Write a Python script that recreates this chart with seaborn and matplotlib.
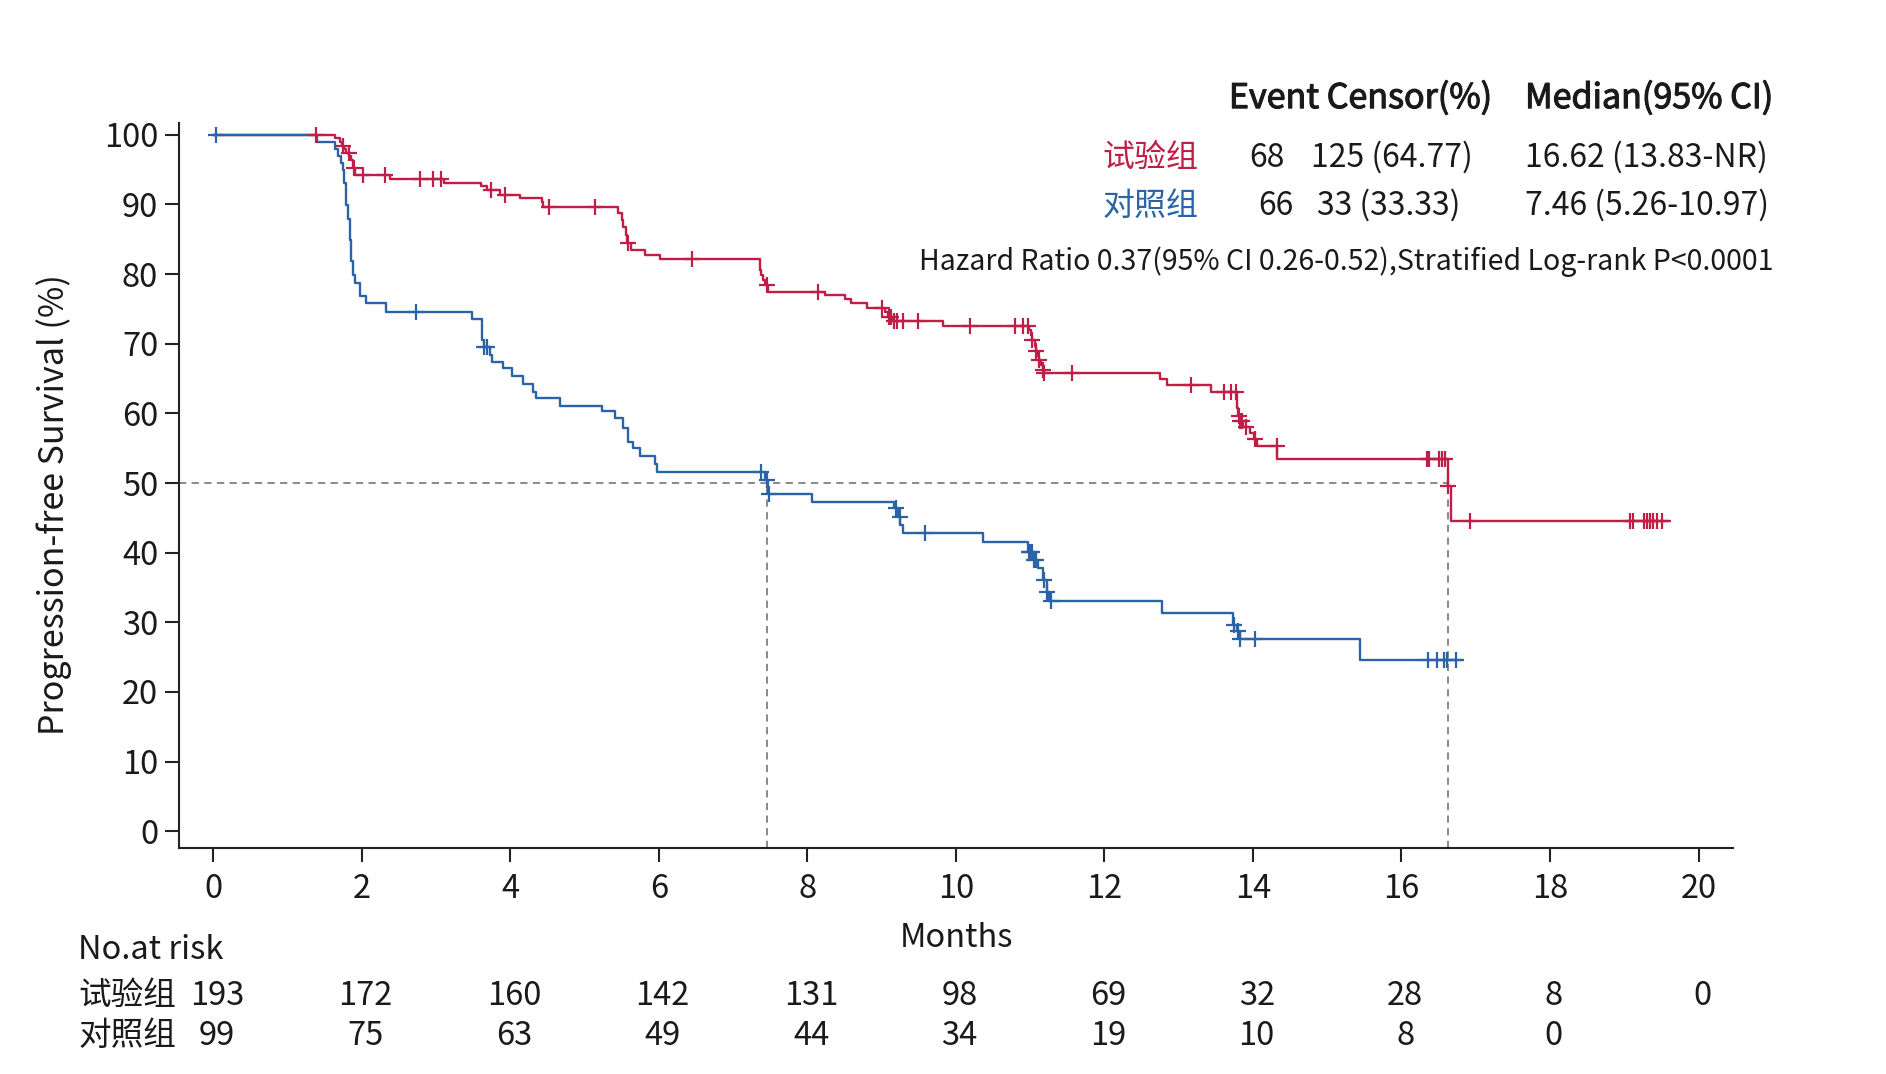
import numpy as np
import pandas as pd
import matplotlib
matplotlib.use("Agg")
import matplotlib.pyplot as plt
import matplotlib.transforms as mtransforms
import matplotlib.patheffects as pe
import seaborn as sns

# ------------------------------------------
# DATA
# ------------------------------------------

GROUPS = ["试验组", "对照组"]

exp_times = [0, 1.64, 1.70, 1.73, 1.76, 1.79, 1.83, 1.86, 1.88, 1.91, 2.38, 3.10,
             3.61, 3.68, 3.86, 4.13, 4.42, 4.44, 5.45, 5.50, 5.52, 5.56, 5.57,
             5.63, 5.81, 6.02, 7.36, 7.38, 7.40, 7.43, 7.47, 8.23, 8.50, 8.59,
             8.80, 9.04, 9.08, 9.15, 9.83, 10.98, 11.01, 11.03, 11.06, 11.08,
             11.10, 11.12, 11.15, 11.17, 11.18, 12.75, 12.84, 13.44, 13.78,
             13.79, 13.80, 13.83, 13.87, 13.96, 14.02, 14.06, 14.33, 16.62,
             16.67, 19.61]
exp_surv = [100, 99.48, 98.96, 98.44, 97.92, 97.4, 96.9, 96.4, 95.2, 94.3, 93.6,
            93.1, 92.7, 92.1, 91.4, 90.9, 90.3, 89.7, 88.75, 87.8, 86.8, 85.6,
            84.4, 83.5, 82.8, 82.1, 80.6, 79.9, 79.2, 78.5, 77.5, 77.0, 76.4,
            75.8, 75.1, 74.6, 73.9, 73.3, 72.6, 71.9, 71.2, 70.5, 69.7, 69.0,
            68.3, 67.6, 66.9, 66.2, 65.8, 65.0, 64.1, 63.0, 61.9, 60.8, 59.6,
            58.9, 58.1, 57.2, 56.3, 55.3, 53.5, 49.5, 44.5, 44.5]
exp_censor = [1.38, 1.75, 1.82, 1.89, 2.02, 2.31, 2.78, 2.96, 3.07, 3.74, 3.93,
              4.52, 5.14, 5.58, 6.44, 7.45, 8.14, 9.00, 9.10, 9.13, 9.17, 9.20,
              9.29, 9.49, 10.19, 10.79, 10.90, 10.97, 11.03, 11.08, 11.12,
              11.17, 11.19, 11.56, 13.17, 13.61, 13.71, 13.77, 13.81, 13.83,
              13.85, 13.90, 14.03, 14.32, 16.34, 16.37, 16.51, 16.55, 16.58,
              16.63, 16.92, 19.08, 19.12, 19.27, 19.30, 19.34, 19.39, 19.44,
              19.51]

ctl_times = [0, 1.39, 1.64, 1.68, 1.72, 1.74, 1.76, 1.78, 1.79, 1.81, 1.84,
             1.86, 1.88, 1.91, 1.97, 2.06, 2.33, 3.48, 3.62, 3.64, 3.73, 3.75,
             3.90, 4.02, 4.17, 4.31, 4.34, 4.67, 5.23, 5.41, 5.52, 5.59, 5.65,
             5.74, 5.95, 5.98, 7.43, 7.47, 8.06, 9.16, 9.22, 9.25, 9.29, 10.36,
             10.97, 11.04, 11.11, 11.17, 11.22, 11.25, 12.78, 13.73, 13.79,
             13.82, 15.44, 16.83]
ctl_surv = [100, 98.99, 97.98, 96.97, 95.96, 94.95, 93.1, 91.9, 89.9, 87.9,
            84.9, 81.9, 79.9, 78.7, 76.8, 75.8, 74.6, 73.6, 70.6, 69.6, 68.4,
            67.4, 66.5, 65.3, 64.2, 63.1, 62.2, 61.1, 60.3, 59.3, 57.9, 55.9,
            55.0, 53.9, 52.8, 51.6, 50.4, 48.4, 47.3, 46.4, 45.1, 44.0, 42.8,
            41.6, 40.1, 39.0, 37.8, 36.1, 34.4, 33.0, 31.3, 29.6, 28.7, 27.6,
            24.6, 24.6]
ctl_censor = [0.03, 2.73, 3.65, 3.68, 7.37, 7.45, 7.48, 9.19, 9.24, 9.59,
              10.98, 11.00, 11.02, 11.05, 11.08, 11.19, 11.23, 11.28, 13.74,
              13.80, 13.83, 14.03, 16.36, 16.48, 16.57, 16.61, 16.73]

medians = [16.62, 7.46]

risk_times = [0, 2, 4, 6, 8, 10, 12, 14, 16, 18, 20]
risk_exp = [193, 172, 160, 142, 131, 98, 69, 32, 28, 8, 0]
risk_ctl = [99, 75, 63, 49, 44, 34, 19, 10, 8, 0]

table_rows = [
    ("68", "125 (64.77)", "16.62 (13.83-NR)"),
    ("66", "33 (33.33)", "7.46 (5.26-10.97)"),
]
hr_text = "Hazard Ratio 0.37(95% CI 0.26-0.52),Stratified Log-rank P<0.0001"

# ------------------------------------------
# STYLE
# ------------------------------------------

COLORS = {"试验组": "#BF1E46", "对照组": "#2A64A6"}
INK = "#1a1a1a"
FS = 23.5

sns.set_theme(style="ticks")
plt.rcParams["font.family"] = ["Noto Sans CJK SC", "DejaVu Sans"]
plt.rcParams["axes.unicode_minus"] = False

fig = plt.figure(figsize=(18.86, 10.74), dpi=100)
ax = fig.add_axes([0.0949, 0.2105, 0.9191 - 0.0949, 0.8855 - 0.2105])

# ------------------------------------------
# CURVES
# ------------------------------------------

df = pd.concat([
    pd.DataFrame({"t": exp_times, "s": exp_surv, "group": GROUPS[0]}),
    pd.DataFrame({"t": ctl_times, "s": ctl_surv, "group": GROUPS[1]}),
])

sns.lineplot(data=df, x="t", y="s", hue="group", hue_order=GROUPS,
             palette=COLORS, estimator=None, drawstyle="steps-post",
             linewidth=1.7, legend=False, ax=ax)


def step_value(times, surv, at):
    idx = np.searchsorted(times, at, side="right") - 1
    return np.asarray(surv)[idx]


for g, times, surv, cens in [(GROUPS[0], exp_times, exp_surv, exp_censor),
                             (GROUPS[1], ctl_times, ctl_surv, ctl_censor)]:
    cy = step_value(np.asarray(times), surv, np.asarray(cens))
    ax.plot(cens, cy, linestyle="none", marker="+", markersize=12,
            markeredgewidth=1.6, color=COLORS[g])

ax.set_xlim(-0.463, 20.47)
ax.set_ylim(-2.4, 101.7)

# median reference lines
x0 = ax.get_xlim()[0]
y0 = ax.get_ylim()[0]
ax.hlines(50, x0, max(medians), colors="#808080", linestyles=(0, (4, 3)),
          linewidth=1.3, zorder=1)
ax.vlines(medians, y0, 50, colors="#808080", linestyles=(0, (4, 3)),
          linewidth=1.3, zorder=1)

# ------------------------------------------
# AXES
# ------------------------------------------

sns.despine(ax=ax)
for sp in ["left", "bottom"]:
    ax.spines[sp].set_linewidth(1.5)
    ax.spines[sp].set_color("#222222")
ax.set_xticks(risk_times)
ax.set_yticks(range(0, 101, 10))
ax.tick_params(axis="both", length=10, width=1.5, color="#222222",
               labelsize=FS, labelcolor=INK, pad=5)
ax.tick_params(axis="x", pad=8)
ax.set_xlabel("")
ax.set_ylabel("")

fig.text(0.0286, 0.530, "Progression-free Survival (%)", rotation=90,
         ha="center", va="center", fontsize=24.5, color=INK)
fig.text(0.5069, 0.1266, "Months", ha="center", va="center",
         fontsize=FS, color=INK)

# ------------------------------------------
# SUMMARY TABLE
# ------------------------------------------

# header is a medium weight in the reference: regular face + thin stroke
medium = [pe.withStroke(linewidth=0.8, foreground=INK)]
fig.text(0.6516, 0.9082, "Event Censor(%)", ha="left", va="center",
         fontsize=24.5, color=INK, path_effects=medium)
fig.text(0.8086, 0.9082, "Median(95% CI)", ha="left", va="center",
         fontsize=24.5, color=INK, path_effects=medium)

row_y = [0.8533, 0.8085]
ev_x = [0.6811, 0.6856]
cen_x = [0.6951, 0.6983]
for i, (g, (ev, cen, med)) in enumerate(zip(GROUPS, table_rows)):
    fig.text(0.5848, row_y[i], g, ha="left", va="center", fontsize=23,
             color=COLORS[g])
    fig.text(ev_x[i], row_y[i], ev, ha="right", va="center", fontsize=23,
             color=INK)
    fig.text(cen_x[i], row_y[i], cen, ha="left", va="center", fontsize=23,
             color=INK)
    fig.text(0.8086, row_y[i], med, ha="left", va="center", fontsize=23,
             color=INK)

fig.text(0.4873, 0.756, hr_text, ha="left", va="center", fontsize=20.5,
         color=INK)

# ------------------------------------------
# NUMBER AT RISK
# ------------------------------------------

trans = mtransforms.blended_transform_factory(ax.transData, fig.transFigure)
fig.text(0.0414, 0.1155, "No.at risk", ha="left", va="center", fontsize=FS,
         color=INK)
for g, vals, yy in [(GROUPS[0], risk_exp, 0.0726), (GROUPS[1], risk_ctl, 0.0358)]:
    fig.text(0.0414, yy, g, ha="left", va="center", fontsize=FS, color=INK)
    for t, v in zip(risk_times, vals):
        ax.text(t + 0.05, yy, str(v), transform=trans, ha="center",
                va="center", fontsize=FS, color=INK, clip_on=False)

fig.savefig("out.png", dpi=100)
